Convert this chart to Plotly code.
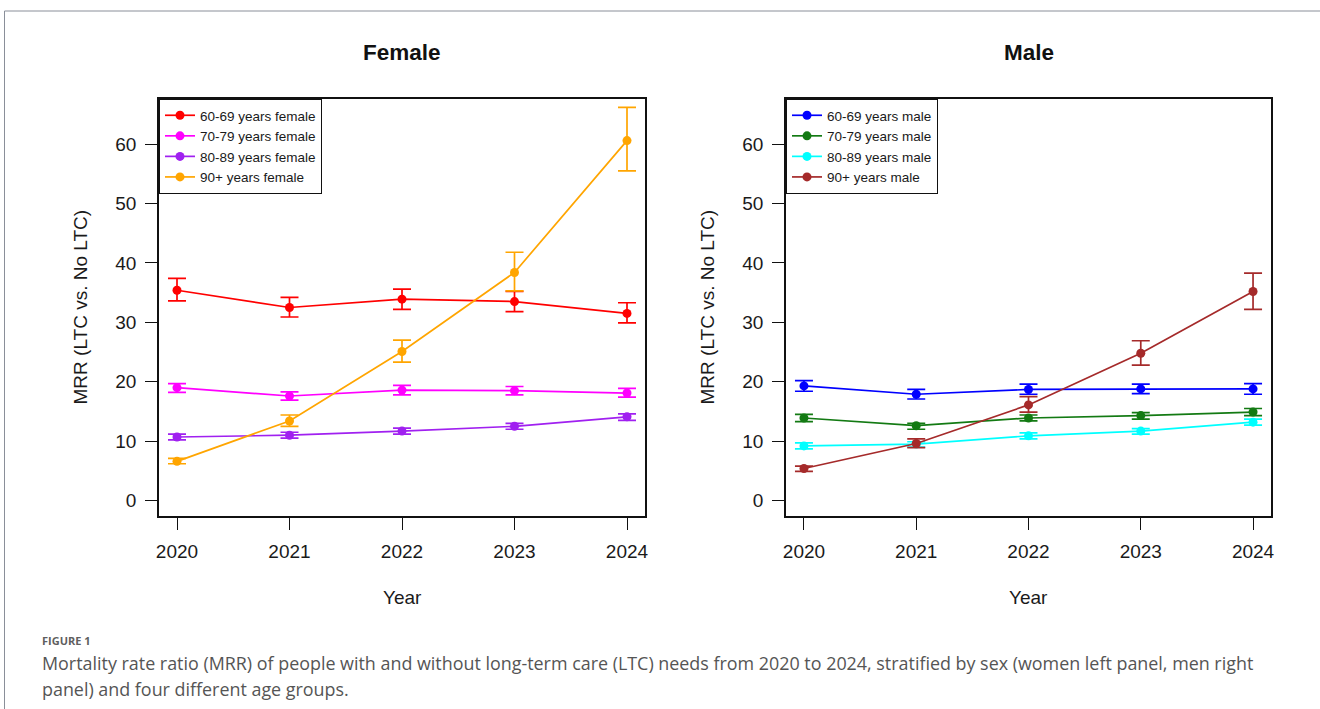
import plotly.graph_objects as go

# ---- data: mortality rate ratio (MRR) with 95% CI, by sex and age group ----
years = [2020, 2021, 2022, 2023, 2024]

female_groups = ["60-69 years female", "70-79 years female", "80-89 years female", "90+ years female"]
female_mrr_6069 = [35.4, 32.5, 33.9, 33.5, 31.5]
female_lo_6069 = [33.6, 30.9, 32.2, 31.8, 29.9]
female_hi_6069 = [37.4, 34.2, 35.6, 35.2, 33.3]
female_mrr_7079 = [19.0, 17.6, 18.6, 18.5, 18.1]
female_lo_7079 = [18.2, 16.9, 17.8, 17.8, 17.4]
female_hi_7079 = [19.7, 18.3, 19.4, 19.2, 18.9]
female_mrr_8089 = [10.7, 11.0, 11.7, 12.5, 14.1]
female_lo_8089 = [10.2, 10.5, 11.2, 12.0, 13.5]
female_hi_8089 = [11.2, 11.5, 12.2, 13.0, 14.6]
female_mrr_90 = [6.6, 13.4, 25.1, 38.4, 60.6]
female_lo_90 = [6.2, 12.5, 23.3, 35.3, 55.5]
female_hi_90 = [7.1, 14.4, 27.0, 41.8, 66.2]

male_groups = ["60-69 years male", "70-79 years male", "80-89 years male", "90+ years male"]
male_mrr_6069 = [19.3, 17.9, 18.7, 18.8, 18.8]
male_lo_6069 = [18.4, 17.1, 17.9, 18.0, 17.9]
male_hi_6069 = [20.2, 18.7, 19.6, 19.6, 19.7]
male_mrr_7079 = [13.9, 12.6, 13.9, 14.3, 14.9]
male_lo_7079 = [13.3, 12.0, 13.4, 13.7, 14.3]
male_hi_7079 = [14.5, 13.0, 14.4, 14.8, 15.5]
male_mrr_8089 = [9.2, 9.5, 10.9, 11.7, 13.2]
male_lo_8089 = [8.7, 9.0, 10.4, 11.2, 12.7]
male_hi_8089 = [9.7, 9.9, 11.4, 12.1, 13.7]
male_mrr_90 = [5.4, 9.6, 16.1, 24.8, 35.2]
male_lo_90 = [4.9, 8.9, 14.9, 22.8, 32.2]
male_hi_90 = [5.8, 10.4, 17.5, 26.9, 38.3]

female_colors = ["#FF0000", "#FF00FF", "#A020F0", "#FFA500"]
male_colors = ["#0000FF", "#137A13", "#00FFFF", "#A52A2A"]

y_ticks = [0, 10, 20, 30, 40, 50, 60]
panel_titles = ["Female", "Male"]
y_title = "MRR (LTC vs. No LTC)"
x_title = "Year"
caption_label = "FIGURE 1"
caption_line1 = ("Mortality rate ratio (MRR) of people with and without long-term care (LTC) needs "
                 "from 2020 to 2024, stratified by sex (women left panel, men right")
caption_line2 = "panel) and four different age groups."

# ---- layout geometry (pixels in a 1320 x 709 page) ----
W, H = 1320, 709
FONT = "Liberation Sans, Arial, sans-serif"
CAP_FONT = "Open Sans, Noto Sans, sans-serif"


def px_x(p):
    return p / W


def px_y(p):
    return 1 - p / H


panels = [
    dict(xdom=[px_x(159), px_x(645)], xaxis="x", yaxis="y", legend="legend",
         groups=female_groups, colors=female_colors,
         series=[(female_mrr_6069, female_lo_6069, female_hi_6069),
                 (female_mrr_7079, female_lo_7079, female_hi_7079),
                 (female_mrr_8089, female_lo_8089, female_hi_8089),
                 (female_mrr_90, female_lo_90, female_hi_90)]),
    dict(xdom=[px_x(786), px_x(1271)], xaxis="x2", yaxis="y2", legend="legend2",
         groups=male_groups, colors=male_colors,
         series=[(male_mrr_6069, male_lo_6069, male_hi_6069),
                 (male_mrr_7079, male_lo_7079, male_hi_7079),
                 (male_mrr_8089, male_lo_8089, male_hi_8089),
                 (male_mrr_90, male_lo_90, male_hi_90)]),
]
ydom = [px_y(516), px_y(99)]

fig = go.Figure()

for p in panels:
    for name, color, (mrr, lo, hi) in zip(p["groups"], p["colors"], p["series"]):
        fig.add_trace(go.Scatter(
            x=years, y=mrr, name=name, mode="lines+markers",
            xaxis=p["xaxis"], yaxis=p["yaxis"], legend=p["legend"],
            line=dict(color=color, width=1.7),
            marker=dict(color=color, size=9, symbol="circle"),
            error_y=dict(type="data", symmetric=False,
                         array=[h - m for h, m in zip(hi, mrr)],
                         arrayminus=[m - l for m, l in zip(mrr, lo)],
                         color=color, thickness=1.7, width=9),
        ))

axis_common = dict(
    showline=True, linecolor="#111111", linewidth=1.5, mirror=True,
    ticks="outside", ticklen=12, tickwidth=1.3, tickcolor="#111111",
    showgrid=False, zeroline=False, automargin=False,
    tickfont=dict(family=FONT, size=19, color="#1a1a1a"),
)

xaxis_cfg = dict(axis_common, range=[2019.84, 2024.16], tickmode="array",
                 tickvals=years, ticktext=[str(y) for y in years], ticklabelstandoff=5)
yaxis_cfg = dict(axis_common, range=[-2.6, 67.6], tickmode="array",
                 tickvals=y_ticks, ticktext=[str(v) for v in y_ticks], ticklabelstandoff=5)

legend_common = dict(
    xanchor="left", yanchor="top", bgcolor="white",
    bordercolor="#111111", borderwidth=1,
    font=dict(family=FONT, size=13.5, color="#1a1a1a"),
)

annotations = []
for p, title in zip(panels, panel_titles):
    cx = (p["xdom"][0] + p["xdom"][1]) / 2
    annotations.append(dict(text=f"<b>{title}</b>", x=cx, y=px_y(53), xref="paper", yref="paper",
                            showarrow=False, xanchor="center", yanchor="middle",
                            font=dict(family=FONT, size=22.5, color="#111111")))
    annotations.append(dict(text=x_title, x=cx, y=px_y(597), xref="paper", yref="paper",
                            showarrow=False, xanchor="center", yanchor="middle",
                            font=dict(family=FONT, size=19, color="#1a1a1a")))
    annotations.append(dict(text=y_title, x=p["xdom"][0] - px_x(79), y=(ydom[0] + ydom[1]) / 2,
                            xref="paper", yref="paper", showarrow=False, textangle=-90,
                            xanchor="center", yanchor="middle",
                            font=dict(family=FONT, size=19, color="#1a1a1a")))

annotations.append(dict(text=f"<b>{caption_label}</b>", x=px_x(40), y=px_y(640), xref="paper", yref="paper",
                        showarrow=False, xanchor="left", yanchor="middle",
                        font=dict(family=CAP_FONT, size=11, color="#5f5f5f")))
annotations.append(dict(text=caption_line1, x=px_x(40), y=px_y(663), xref="paper", yref="paper",
                        showarrow=False, xanchor="left", yanchor="middle",
                        font=dict(family=CAP_FONT, size=17.9, color="#555555")))
annotations.append(dict(text=caption_line2, x=px_x(40), y=px_y(689), xref="paper", yref="paper",
                        showarrow=False, xanchor="left", yanchor="middle",
                        font=dict(family=CAP_FONT, size=17.9, color="#555555")))

# thin frame around the figure block
shapes = [
    dict(type="line", xref="paper", yref="paper", x0=px_x(4.5), x1=1, y0=px_y(11), y1=px_y(11),
         line=dict(color="#8a8f99", width=1)),
    dict(type="line", xref="paper", yref="paper", x0=px_x(4.5), x1=px_x(4.5), y0=px_y(11), y1=0,
         line=dict(color="#8a8f99", width=1)),
]

fig.update_layout(
    width=W, height=H,
    margin=dict(l=0, r=0, t=0, b=0),
    paper_bgcolor="white", plot_bgcolor="white",
    showlegend=True,
    xaxis=dict(xaxis_cfg, domain=panels[0]["xdom"], anchor="y"),
    yaxis=dict(yaxis_cfg, domain=ydom, anchor="x"),
    xaxis2=dict(xaxis_cfg, domain=panels[1]["xdom"], anchor="y2"),
    yaxis2=dict(yaxis_cfg, domain=ydom, anchor="x2"),
    legend=dict(legend_common, x=panels[0]["xdom"][0], y=ydom[1]),
    legend2=dict(legend_common, x=panels[1]["xdom"][0], y=ydom[1]),
    annotations=annotations,
    shapes=shapes,
)

fig.write_html("out.html")
